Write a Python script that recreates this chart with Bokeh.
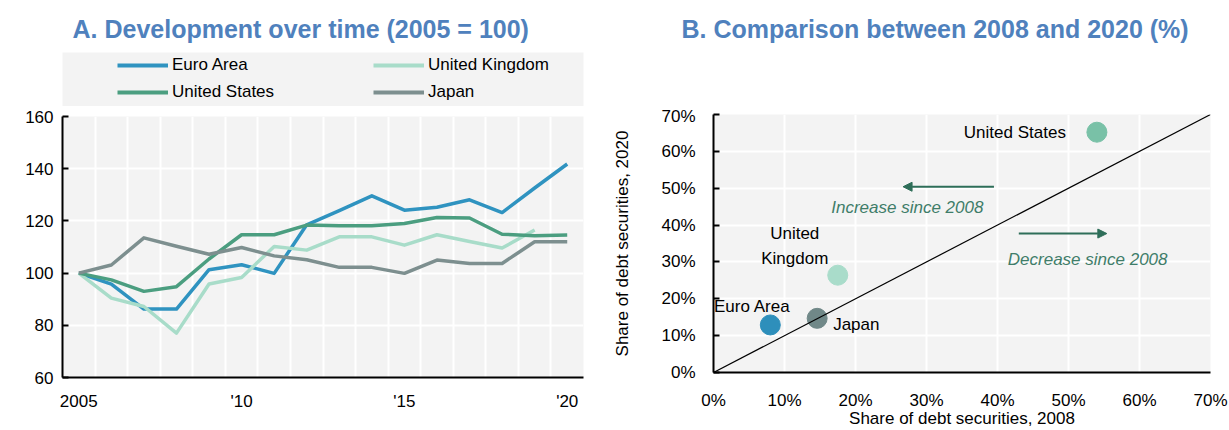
from bokeh.plotting import figure
from bokeh.layouts import row, column
from bokeh.models import (Range1d, FixedTicker, NumeralTickFormatter, Legend, LegendItem,
                          Slope, Arrow, NormalHead, Label, ColumnDataSource)
from bokeh.embed import file_html
from bokeh.resources import INLINE
from bokeh.core.properties import value, field

FONT = "Liberation Sans"
NAN = float("nan")

# ---------------- data: panel A ----------------
years = [2005, 2006, 2007, 2008, 2009, 2010, 2011, 2012, 2013, 2014, 2015, 2016, 2017, 2018, 2019, 2020]
euro_area = [100, 95.8, 86.2, 86.2, 101.3, 103.2, 99.9, 118.5, 123.9, 129.6, 124.1, 125.2, 128.1, 123.2, 132.6, 141.8]
united_kingdom = [100, 90.4, 87.2, 77.0, 95.8, 98.3, 110.2, 108.8, 113.9, 113.9, 110.7, 114.7, 112.1, 109.6, 116.5, NAN]
united_states = [100, 97.4, 93.0, 94.8, 105.4, 114.7, 114.7, 118.4, 118.1, 118.1, 119.0, 121.3, 121.1, 114.9, 114.3, 114.6]
japan = [100, 103.1, 113.5, 110.3, 107.2, 109.8, 106.6, 105.1, 102.2, 102.2, 99.9, 105.0, 103.7, 103.7, 112.0, 112.0]
x_tick_years = [2005, 2010, 2015, 2020]
x_tick_labels = ["2005", "'10", "'15", "'20"]
y_ticks_a = [60, 80, 100, 120, 140, 160]

series_names = ["Euro Area", "United Kingdom", "United States", "Japan"]
series_values = [euro_area, united_kingdom, united_states, japan]
line_colors = ["#2f93c0", "#a8dcc9", "#4b9e80", "#7d8f8f"]

# ---------------- data: panel B ----------------
countries = ["Euro Area", "United Kingdom", "Japan", "United States"]
share_2008 = [0.080, 0.175, 0.146, 0.540]
share_2020 = [0.129, 0.264, 0.147, 0.652]
point_labels = ["Euro Area", "United\nKingdom", "Japan", "United States"]
point_colors = ["#2e8fbb", "#a9dcca", "#708888", "#79c1a7"]
pct_ticks = [0.0, 0.1, 0.2, 0.3, 0.4, 0.5, 0.6, 0.7]

# label placement (styles, not data)
lab_xoff = [-18, -43, 16, -31]
lab_yoff = [-18, -29.5, 6, 0]
lab_align = ["center", "center", "left", "right"]

TITLE_COLOR = "#4f81bd"
BG = "#f3f3f3"
ARROW_COLOR = "#2e6e59"
NOTE_COLOR = "#3f7d69"
FS = "17px"
TFS = "25px"


def style_title(fig, offset):
    fig.title.align = "left"
    fig.title.offset = offset
    fig.title.text_font = FONT
    fig.title.text_font_size = TFS
    fig.title.text_font_style = "bold"
    fig.title.text_color = TITLE_COLOR
    fig.title.standoff = 20


# ================= Panel A: title + legend strip =================
# The strip's y-range lies outside the series values, so its lines are clipped
# away and only serve as legend glyph sources.
leg = figure(width=610, height=106, x_range=Range1d(2004.5, 2020.5), y_range=Range1d(0, 1),
             x_axis_type=None, y_axis_type=None, output_backend="svg", toolbar_location=None,
             min_border_left=62, min_border_right=27, min_border_top=52, min_border_bottom=0,
             background_fill_color=BG, outline_line_color=None, border_fill_color="white",
             title="A. Development over time (2005 = 100)")
leg.grid.visible = False
style_title(leg, 10)

legend_src = {}
for name, vals, col in zip(series_names, series_values, line_colors):
    legend_src[name] = leg.line(x=years, y=vals, line_color=col, line_width=4)

legend = Legend(items=[LegendItem(label=n, renderers=[legend_src[n]]) for n in series_names],
                location=(55, 2), orientation="horizontal", ncols=2, padding=0, margin=0,
                spacing=3, glyph_width=51, glyph_height=24, label_width=198, label_height=24,
                label_standoff=4, label_text_font=FONT, label_text_font_size=FS,
                label_text_color="black", border_line_color=None, background_fill_alpha=0)
leg.add_layout(legend)

# ================= Panel A: chart =================
p1 = figure(width=610, height=324, x_range=Range1d(2004.5, 2020.5), y_range=Range1d(60, 160),
            output_backend="svg", toolbar_location=None,
            min_border_left=62, min_border_right=27, min_border_top=10, min_border_bottom=53,
            background_fill_color=BG, outline_line_color=None)

for vals, col in zip(series_values, line_colors):
    p1.line(x=years, y=vals, line_color=col, line_width=3.5, line_join="round")

p1.xaxis.ticker = FixedTicker(ticks=x_tick_years)
p1.xaxis.major_label_overrides = {y: l for y, l in zip(x_tick_years, x_tick_labels)}
p1.yaxis.ticker = FixedTicker(ticks=y_ticks_a)
p1.xgrid.ticker = FixedTicker(ticks=[y + 0.5 for y in years[:-1]])
p1.ygrid.ticker = FixedTicker(ticks=y_ticks_a)
for g in (p1.xgrid, p1.ygrid):
    g.grid_line_color = "white"
    g.grid_line_width = 2
for ax in (p1.xaxis, p1.yaxis):
    ax.axis_line_color = "black"
    ax.axis_line_width = 2
    ax.major_label_text_font = FONT
    ax.major_label_text_font_size = FS
    ax.major_label_text_color = "black"
    ax.minor_tick_line_color = None
p1.xaxis.major_tick_in = 0
p1.xaxis.major_tick_out = 0
p1.xaxis.major_label_standoff = 14
p1.yaxis.major_tick_in = 6
p1.yaxis.major_tick_out = 0
p1.yaxis.major_tick_line_width = 2
p1.yaxis.major_tick_line_color = "black"
p1.yaxis.major_label_standoff = 9

# ================= Panel B: title strip =================
tb = figure(width=619, height=106, x_range=Range1d(0, 1), y_range=Range1d(0, 1),
            x_axis_type=None, y_axis_type=None, output_backend="svg", toolbar_location=None,
            min_border_left=102, min_border_right=19, min_border_top=52, min_border_bottom=0,
            background_fill_color="white", outline_line_color=None, border_fill_color="white",
            title="B. Comparison between 2008 and 2020 (%)")
tb.grid.visible = False
style_title(tb, -32)

# ================= Panel B: chart =================
p2 = figure(width=619, height=324, x_range=Range1d(0, 0.7), y_range=Range1d(0, 0.7),
            output_backend="svg", toolbar_location=None,
            min_border_left=102, min_border_right=19, min_border_top=8, min_border_bottom=56,
            background_fill_color=BG, outline_line_color=None)

p2.add_layout(Slope(gradient=1, y_intercept=0, line_color="black", line_width=1.2))

src = ColumnDataSource(dict(x=share_2008, y=share_2020, name=point_labels, color=point_colors,
                            xo=lab_xoff, yo=lab_yoff, align=lab_align))
p2.scatter(x="x", y="y", source=src, size=20, fill_color="color", line_color="color")
p2.text(x="x", y="y", text="name", source=src, x_offset="xo", y_offset="yo",
        text_align=field("align"), text_baseline="middle", text_font=value(FONT),
        text_font_size=value(FS), text_color="black", text_line_height=1.3)

p2.add_layout(Arrow(end=NormalHead(size=9, fill_color=ARROW_COLOR, line_color=ARROW_COLOR),
                    x_start=0.395, y_start=0.504, x_end=0.267, y_end=0.504,
                    line_color=ARROW_COLOR, line_width=2))
p2.add_layout(Arrow(end=NormalHead(size=9, fill_color=ARROW_COLOR, line_color=ARROW_COLOR),
                    x_start=0.430, y_start=0.377, x_end=0.554, y_end=0.377,
                    line_color=ARROW_COLOR, line_width=2))
p2.add_layout(Label(x=0.273, y=0.447, text="Increase since 2008", text_align="center",
                    text_baseline="middle", text_font=FONT, text_font_size=FS,
                    text_font_style="italic", text_color=NOTE_COLOR))
p2.add_layout(Label(x=0.527, y=0.307, text="Decrease since 2008", text_align="center",
                    text_baseline="middle", text_font=FONT, text_font_size=FS,
                    text_font_style="italic", text_color=NOTE_COLOR))

p2.xaxis.ticker = FixedTicker(ticks=pct_ticks)
p2.yaxis.ticker = FixedTicker(ticks=pct_ticks)
p2.xaxis.formatter = NumeralTickFormatter(format="0%")
p2.yaxis.formatter = NumeralTickFormatter(format="0%")
p2.xgrid.ticker = FixedTicker(ticks=pct_ticks)
p2.ygrid.ticker = FixedTicker(ticks=pct_ticks)
for g in (p2.xgrid, p2.ygrid):
    g.grid_line_color = "white"
    g.grid_line_width = 2
for ax in (p2.xaxis, p2.yaxis):
    ax.axis_line_color = "black"
    ax.axis_line_width = 2
    ax.major_label_text_font = FONT
    ax.major_label_text_font_size = FS
    ax.major_label_text_color = "black"
    ax.minor_tick_line_color = None
    ax.axis_label_text_font = FONT
    ax.axis_label_text_font_size = FS
    ax.axis_label_text_font_style = "normal"
    ax.axis_label_text_color = "black"
p2.xaxis.axis_label = "Share of debt securities, 2008"
p2.yaxis.axis_label = "Share of debt securities, 2020"
p2.xaxis.major_tick_in = 0
p2.xaxis.major_tick_out = 0
p2.xaxis.major_label_standoff = 18
p2.xaxis.axis_label_standoff = -4
p2.yaxis.major_tick_in = 6
p2.yaxis.major_tick_out = 0
p2.yaxis.major_tick_line_width = 2
p2.yaxis.major_tick_line_color = "black"
p2.yaxis.major_label_standoff = 18
p2.yaxis.axis_label_standoff = 26

layout = row(column(leg, p1, spacing=0), column(tb, p2, spacing=0), spacing=0)
open("out.html", "w").write(file_html(layout, INLINE))
